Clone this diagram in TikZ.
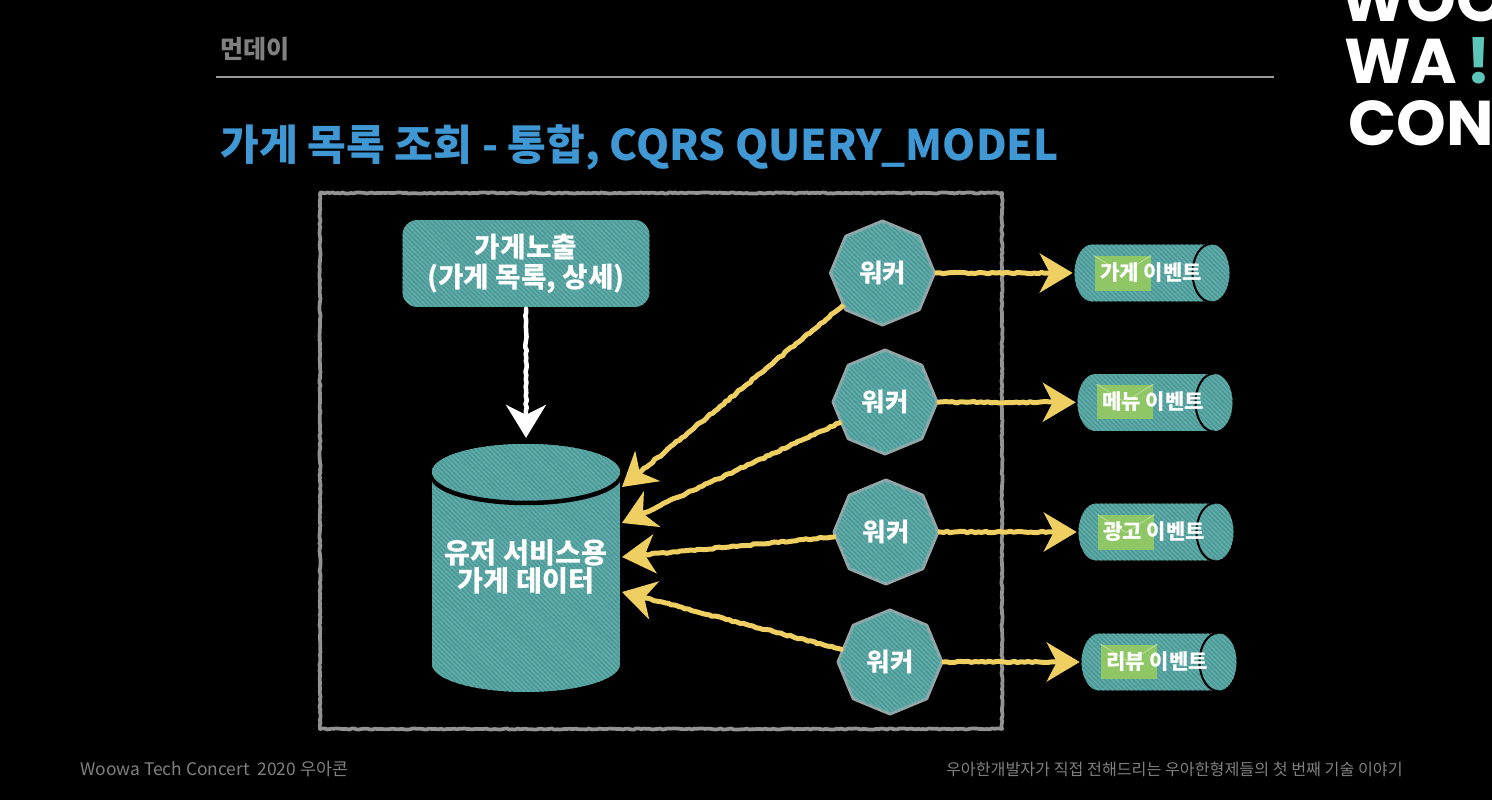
\documentclass[tikz,border=0pt]{standalone}
\usepackage{fontspec}
\setmainfont{Noto Sans CJK KR}
\newfontfamily\logofont{Poppins}
\usepackage{xcolor}
\usetikzlibrary{arrows.meta,shapes.geometric,patterns.meta,decorations.pathmorphing}
\definecolor{shapeteal}{HTML}{4E9A98}
\definecolor{stripeteal}{HTML}{62AEAB}
\definecolor{titleblue}{HTML}{3F97D3}
\definecolor{chalkyellow}{HTML}{EFCF62}
\definecolor{envgreen}{HTML}{90C766}
\definecolor{flapgreen}{HTML}{B4DA94}
\definecolor{edgegray}{HTML}{9AA5A8}
\definecolor{logoteal}{HTML}{5CC6B8}
\tikzset{
  hatched/.style={fill=shapeteal,postaction={pattern={Lines[angle=-45,distance=1.9pt,line width=0.75pt]},pattern color=stripeteal}},
  chalk/.style={decorate,decoration={random steps,segment length=2pt,amplitude=0.45pt,pre length=1pt,post length=14pt}},
  yellowarrow/.style={chalk,draw=chalkyellow,line width=0.1cm,-{Stealth[length=0.66cm,width=0.78cm,inset=0.2cm]}},
  worker/.style={regular polygon,regular polygon sides=8,shape border rotate=22.5,minimum size=2.08cm,inner sep=0pt,outer sep=0pt,hatched,draw=edgegray,line width=0.06cm,text=white,font=\fontsize{14.5}{16}\selectfont\bfseries},
  eventtube/.style={cylinder,shape border rotate=180,aspect=0.65,minimum width=1.14cm,minimum height=3.1cm,inner sep=0pt,outer sep=0pt,hatched,anchor=shape center},
  tubeline/.style={black,line width=0.04cm},
  envelope/.style={rectangle,fill=envgreen,minimum width=1.12cm,minimum height=0.7cm,inner sep=0pt},
  flap/.style={flapgreen,line width=0.02cm},
  eventlabel/.style={text=white,inner sep=0pt,font=\fontsize{12}{14}\selectfont\bfseries},
  logotext/.style={anchor=base west,inner sep=0pt,text=white,font=\fontsize{36}{40}\logofont\bfseries},
}
\begin{document}
\begin{tikzpicture}[x=0.02cm,y=-0.02cm,line join=round]
  \useasboundingbox (0,0) rectangle (1492,800);
  \clip (0,0) rectangle (1492,800);
  \fill[black] (0,0) rectangle (1492,800);
  % header
  \node[anchor=west,inner sep=0pt,text=gray,font=\fontsize{14.3}{16}\selectfont\bfseries] (header) at (220,49) {먼데이};
  \draw[gray!80!white,line width=0.04cm] (216,77) -- (1274,77);
  \node[anchor=west,inner sep=0pt,text=titleblue,font=\fontsize{24}{28}\selectfont\bfseries] (title) at (220,147) {가게 목록 조회 - 통합, CQRS QUERY\_MODEL};
  % logo
  \node[logotext] (logo1) at (1340,22) {WOO};
  \node[logotext] (logo2) at (1344,84) {WA};
  \node[logotext,text=logoteal] (logo3) at (1466,84) {!};
  \node[logotext] (logo4) at (1348,146) {CON};
  % frame
  \draw[decorate,decoration={random steps,segment length=1.5pt,amplitude=0.35pt},draw=gray!85!white,line width=0.075cm] (320,193) rectangle (1002,729);
  % store view and database
  \node[rectangle,rounded corners=0.3cm,hatched,minimum width=4.94cm,minimum height=1.74cm,inner sep=0pt,outer sep=0pt,align=center,text=white,font=\fontsize{15.8}{17}\selectfont\bfseries] (storeview) at (526,263.5) {가게노출\\(가게 목록, 상세)};
  \node[cylinder,shape border rotate=90,aspect=0.3,minimum width=3.76cm,minimum height=4.96cm,inner sep=0pt,outer sep=0pt,hatched,anchor=shape center] (db) at (526,568) {\rule{3.7cm}{0pt}};
  \draw[black,line width=0.09cm] (432,475) arc[start angle=180,end angle=0,x radius=94,y radius=28];
  \fill[hatched] (526,472) ellipse [x radius=94,y radius=28];
  \node[align=center,inner sep=0pt,text=white,font=\fontsize{16.1}{15.5}\selectfont\bfseries] (dblabel) at (526,567) {유저 서비스용\\가게 데이터};
  \draw[chalk,draw=white,line width=0.09cm,shorten >=3.5pt,shorten <=3pt,-{Stealth[length=0.66cm,width=0.8cm,inset=0.2cm]}] (storeview) -- (db);
  % workers
  \node[worker] (w1) at (882.5,273) {워커};
  \node[worker] (w2) at (885,402) {워커};
  \node[worker] (w3) at (886,532) {워커};
  \node[worker] (w4) at (890,662) {워커};
  \coordinate (in1) at (622,487);
  \coordinate (in2) at (622,523);
  \coordinate (in3) at (622,557);
  \coordinate (in4) at (622,592);
  \draw[yellowarrow] (w1) -- (in1);
  \draw[yellowarrow] (w2) -- (in2);
  \draw[yellowarrow] (w3) -- (in3);
  \draw[yellowarrow] (w4) -- (in4);
  % event queues
  \node[eventtube] (e1) at (1152,273) {\rule{0pt}{1.1cm}};
  \node[eventtube] (e2) at (1155,402.5) {\rule{0pt}{1.1cm}};
  \node[eventtube] (e3) at (1156,532) {\rule{0pt}{1.1cm}};
  \node[eventtube] (e4) at (1159,662) {\rule{0pt}{1.1cm}};
  \draw[tubeline] (1211,244) arc[start angle=-90,end angle=-270,x radius=18.5,y radius=29];
  \draw[tubeline] (1214,373.5) arc[start angle=-90,end angle=-270,x radius=18.5,y radius=29];
  \draw[tubeline] (1215,503) arc[start angle=-90,end angle=-270,x radius=18.5,y radius=29];
  \draw[tubeline] (1218,633) arc[start angle=-90,end angle=-270,x radius=18.5,y radius=29];
  \node[envelope] (m1) at (1122.5,273.5) {};
  \node[envelope] (m2) at (1125,402) {};
  \node[envelope] (m3) at (1126,532.5) {};
  \node[envelope] (m4) at (1129,662) {};
  \draw[flap] (m1.north west) -- (m1.center) -- (m1.north east);
  \draw[flap] (m2.north west) -- (m2.center) -- (m2.north east);
  \draw[flap] (m3.north west) -- (m3.center) -- (m3.north east);
  \draw[flap] (m4.north west) -- (m4.center) -- (m4.north east);
  \node[eventlabel] (t1) at (1151,273) {가게 이벤트};
  \node[eventlabel] (t2) at (1153,402) {메뉴 이벤트};
  \node[eventlabel] (t3) at (1154,532) {광고 이벤트};
  \node[eventlabel] (t4) at (1157,662) {리뷰 이벤트};
  \draw[yellowarrow,shorten >=1pt] (w1) -- (e1);
  \draw[yellowarrow,shorten >=1pt] (w2) -- (e2);
  \draw[yellowarrow,shorten >=1pt] (w3) -- (e3);
  \draw[yellowarrow,shorten >=1pt] (w4) -- (e4);
  % footer
  \node[anchor=west,inner sep=0pt,text=gray,font=\fontsize{9.9}{12}\selectfont] (footl) at (80,769) {Woowa Tech Concert\ \ 2020 우아콘};
  \node[anchor=east,inner sep=0pt,text=gray,font=\fontsize{9.2}{11}\selectfont] (footr) at (1403,769) {우아한개발자가 직접 전해드리는 우아한형제들의 첫 번째 기술 이야기};
\end{tikzpicture}
\end{document}
